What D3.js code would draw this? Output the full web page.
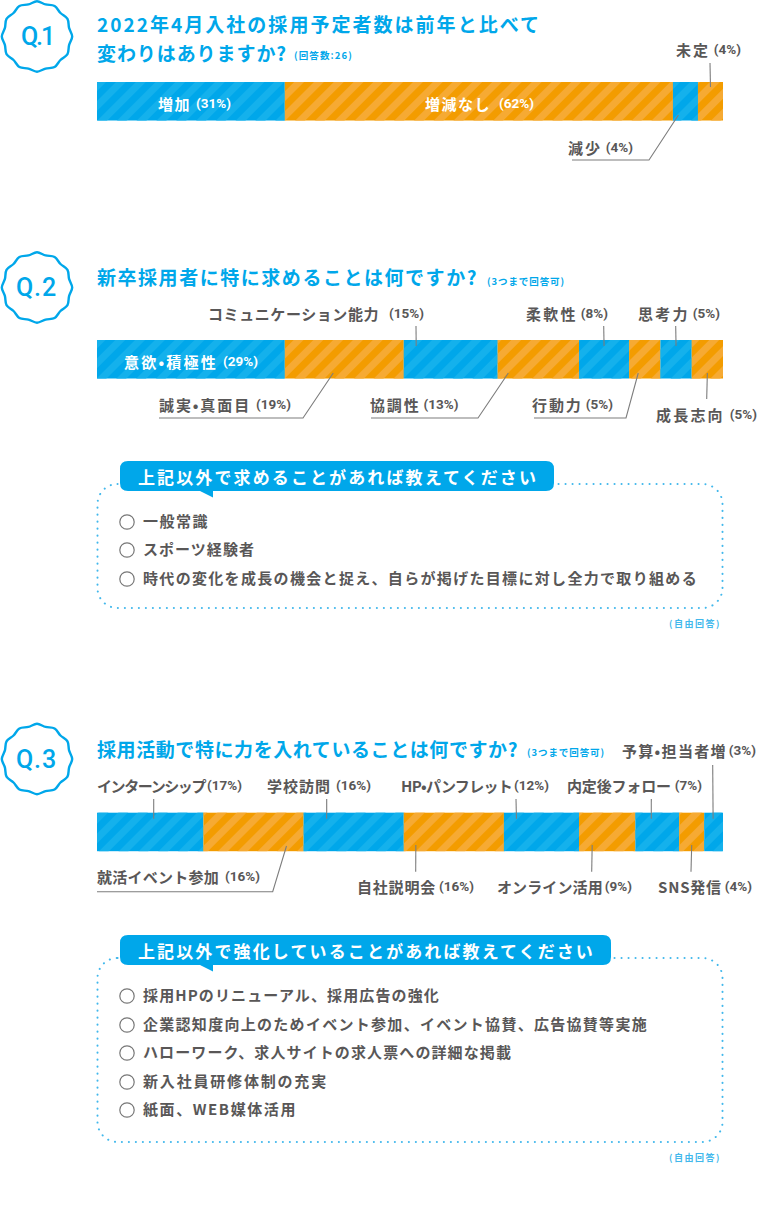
<!DOCTYPE html>
<html lang="ja">
<head>
<meta charset="utf-8">
<style>
	html, body { margin: 0; background: #fff; }
	svg { display: block; }
	text { font-family: "Noto Sans CJK JP", "Noto Sans", sans-serif; font-weight: 700; dominant-baseline: central; }
</style>
</head>
<body>
<svg width="780" height="1217"></svg>
<script src="https://cdn.jsdelivr.net/npm/d3@7"></script>
<script>
// Q1
const q1Names = ['増加', '増減なし', '減少', '未定'];
const q1Pct = [31, 62, 4, 4];
const q1Shares = [30, 62, 4, 4]; // bar widths as drawn in the picture

// Q2
const q2Names = ['意欲•積極性', '誠実•真面目', 'コミュニケーション能力', '協調性', '柔軟性', '行動力', '思考力', '成長志向'];
const q2Pct = [29, 19, 15, 13, 8, 5, 5, 5];
const q2Shares = [30, 19, 15, 13, 8, 5, 5, 5];
const q2Answers = ['一般常識', 'スポーツ経験者', '時代の変化を成長の機会と捉え、自らが掲げた目標に対し全力で取り組める'];

// Q3
const q3Names = ['インターンシップ', '就活イベント参加', '学校訪問', '自社説明会', 'HP•パンフレット', 'オンライン活用', '内定後フォロー', 'SNS発信', '予算•担当者増'];
const q3Pct = [17, 16, 16, 16, 12, 9, 7, 4, 3];
const q3Answers = ['採用HPのリニューアル、採用広告の強化', '企業認知度向上のためイベント参加、イベント協賛、広告協賛等実施', 'ハローワーク、求人サイトの求人票への詳細な掲載', '新入社員研修体制の充実', '紙面、WEB媒体活用'];

const blue = '#00a7ea';
const orange = '#f39c00';
const grey = '#595757';

const svg = d3.select('svg');
const x = d3.scaleLinear().domain([0, 100]).range([97, 723]);
const barHeight = 38.5;

// Stripes on the bars
const defs = svg.append('defs');
[['blue', '#14b1ec'], ['orange', '#f6aa33']].forEach(([id, stripe]) => {
	defs.append('pattern')
		.attr('id', `stripe-${id}`)
		.attr('patternUnits', 'userSpaceOnUse')
		.attr('width', 14)
		.attr('height', 14)
		.attr('patternTransform', 'rotate(45)')
		.append('rect')
		.attr('width', 7)
		.attr('height', 14)
		.attr('fill', stripe);
});

// Writes a text so it runs exactly from x0 to x1, by spreading the letters
function fitText(sel, x0, x1) {
	const node = sel.node();
	const chars = sel.text().length;
	const w = node.getComputedTextLength();
	sel.attr('x', x0).style('letter-spacing', `${(x1 - x0 - w) / chars}px`);
	return sel;
}

function line(txt, x0, x1, y, size, color) {
	const t = svg.append('text').attr('y', y - 1).attr('font-size', size).attr('fill', color).text(txt);
	return fitText(t, x0, x1);
}

// Name and percentage: the percentage keeps its own width, the name takes what is left
function label(name, pct, [x0, x1, y, gap = 4], color = grey) {
	const t = svg.append('text').attr('y', y - 1).attr('fill', color).attr('font-size', 15);
	const n = t.append('tspan').text(name);
	const p = t.append('tspan').attr('font-size', 13.5).style('font-family', 'Roboto').text(`(${pct}%)`);
	const nameW = n.node().getComputedTextLength();
	const pctW = p.node().getComputedTextLength();
	const spare = x1 - x0 - pctW - gap - nameW;
	n.style('letter-spacing', `${spare / name.length}px`);
	p.attr('dx', gap);
	t.attr('x', x0);
}

function badge(txt, cy, tx0, tx1) {
	const radial = d3.lineRadial()
		.angle((d, i) => (i / 24) * 2 * Math.PI)
		.radius((d) => d)
		.curve(d3.curveCardinalClosed);
	const radii = d3.range(24).map((i) => (i % 2 ? 33.2 : 35.2));
	svg.append('path')
		.attr('transform', `translate(37,${cy})`)
		.attr('d', radial(radii))
		.attr('fill', '#fff')
		.attr('stroke', blue)
		.attr('stroke-width', 2.4);
	svg.append('text')
		.attr('y', cy)
		.attr('font-size', 25)
		.attr('fill', blue)
		.style('font-family', 'Roboto')
		.style('font-weight', 500)
		.text(txt)
		.call(fitText, tx0, tx1);
}

function bars(shares, y) {
	const ends = Array.from(d3.cumsum(shares));
	const segs = shares.map((s, i) => ({ start: ends[i] - s, end: ends[i], id: i % 2 ? 'orange' : 'blue' }));
	const g = svg.append('g');
	g.selectAll('rect.base')
		.data(segs)
		.join('rect')
		.attr('class', 'base')
		.attr('x', (d) => x(d.start))
		.attr('y', y)
		.attr('width', (d) => x(d.end) - x(d.start))
		.attr('height', barHeight)
		.attr('fill', (d) => (d.id === 'blue' ? blue : orange));
	g.selectAll('rect.stripe')
		.data(segs)
		.join('rect')
		.attr('class', 'stripe')
		.attr('x', (d) => x(d.start))
		.attr('y', y)
		.attr('width', (d) => x(d.end) - x(d.start))
		.attr('height', barHeight)
		.attr('fill', (d) => `url(#stripe-${d.id})`);
	return segs;
}

// Leader: starts in a segment (offset from its middle), then follows fixed points
function leader(seg, dx, y0, rest) {
	const start = [(x(seg.start) + x(seg.end)) / 2 + dx, y0];
	svg.append('path')
		.attr('d', d3.line()([start, ...rest]))
		.attr('fill', 'none')
		.attr('stroke', '#7d7d7d')
		.attr('stroke-width', 1.1);
}

function answerBox(title, answers, top, bottom, bubbleRight, titleRight, ys) {
	svg.append('rect')
		.attr('x', 97.5)
		.attr('y', top)
		.attr('width', 625)
		.attr('height', bottom - top)
		.attr('rx', 20)
		.attr('fill', 'none')
		.attr('stroke', '#42b8ec')
		.attr('stroke-width', 2)
		.attr('stroke-linecap', 'round')
		.attr('stroke-dasharray', '0.1 6.9');

	const p = d3.path();
	const t = top - 23;
	const b = top + 7;
	p.moveTo(128, t);
	p.lineTo(bubbleRight - 8, t);
	p.quadraticCurveTo(bubbleRight, t, bubbleRight, t + 8);
	p.lineTo(bubbleRight, b - 8);
	p.quadraticCurveTo(bubbleRight, b, bubbleRight - 8, b);
	p.lineTo(213, b);
	p.lineTo(213, b + 6.5);
	p.lineTo(200, b);
	p.lineTo(128, b);
	p.quadraticCurveTo(120, b, 120, b - 8);
	p.lineTo(120, t + 8);
	p.quadraticCurveTo(120, t, 128, t);
	p.closePath();
	svg.append('path').attr('d', p.toString()).attr('fill', blue);

	line(title, 138, titleRight, t + 16, 17, '#fff');

	svg.selectAll(null)
		.data(answers)
		.join('circle')
		.attr('cx', 127)
		.attr('cy', (d, i) => ys[i].y)
		.attr('r', 7.2)
		.attr('fill', 'none')
		.attr('stroke', '#777')
		.attr('stroke-width', 1.2);
	answers.forEach((a, i) => line(a, 143, ys[i].right, ys[i].y - 0.5, 15, grey));

	line('(自由回答)', 669, 721, bottom + 16, 9, '#42b8ec');
}

/* ---------- Q1 ---------- */
badge('Q.1', 36.5, 21, 53);
line('2022年4月入社の採用予定者数は前年と比べて', 97, 541, 24, 19, blue);
line('変わりはありますか?', 97, 287, 53, 19, blue);
line('(回答数:26)', 294, 353, 56, 9.5, blue);

const q1Segs = bars(q1Shares, 82);
label(q1Names[0], q1Pct[0], [158, 231, 104, 5], '#fff');
label(q1Names[1], q1Pct[1], [425, 534, 104, 8], '#fff');
label(q1Names[2], q1Pct[2], [568, 633, 148]);
label(q1Names[3], q1Pct[3], [676, 741, 50]);
leader(q1Segs[2], -7, 115, [[649, 160], [572, 160]]);
leader(q1Segs[3], 0, 87, [[710, 63]]);

/* ---------- Q2 ---------- */
badge('Q.2', 287.5, 16, 57);
line('新卒採用者に特に求めることは何ですか?', 97, 478, 277, 19, blue);
line('(3つまで回答可)', 487, 565, 282, 9.5, blue);

const q2Segs = bars(q2Shares, 340);
const q2Boxes = [[124, 258, 362, 5], [159, 291, 405, 5], [208, 424, 314, 10], [370, 458.5, 405, 3], [526, 608, 314, 3], [532, 613, 405, 3], [638, 720, 314, 3], [656, 757, 415, 5]];
q2Names.forEach((n, i) => label(n, q2Pct[i], q2Boxes[i], i === 0 ? '#fff' : grey));
leader(q2Segs[1], -11, 373, [[303, 418], [159, 418]]);
leader(q2Segs[2], -34.5, 346, [[416, 326]]);
leader(q2Segs[3], -30, 373, [[478, 418], [371, 418]]);
leader(q2Segs[4], 0, 346, [[603.7, 326]]);
leader(q2Segs[5], -6.5, 373, [[626, 418], [534, 418]]);
leader(q2Segs[6], 0, 346, [[675.7, 326]]);
leader(q2Segs[7], 0, 373, [[706.7, 399]]);

answerBox('上記以外で求めることがあれば教えてください', q2Answers, 484, 608, 554, 538, [
	{ y: 522, right: 209 },
	{ y: 550, right: 255 },
	{ y: 579, right: 698 },
]);

/* ---------- Q3 ---------- */
badge('Q.3', 759, 16, 57);
line('採用活動で特に力を入れていることは何ですか?', 97, 518, 749, 19, blue);
line('(3つまで回答可)', 527, 605, 753, 9.5, blue);

const q3Segs = bars(q3Pct, 812.7);
const q3Boxes = [[97, 242, 786, 2], [97, 260, 877, 6], [267, 371, 786, 5], [357, 474, 887, 3], [401, 549, 786, 2], [497, 632, 887, 2], [567, 702, 786, 4], [658, 752, 887, 3], [622, 756, 751, 2]];
q3Names.forEach((n, i) => label(n, q3Pct[i], q3Boxes[i]));
leader(q3Segs[0], 3.5, 818.7, [[153.7, 799]]);
leader(q3Segs[1], 33, 846, [[272.7, 891.7], [97, 891.7]]);
leader(q3Segs[2], -27, 818.7, [[326.7, 799]]);
leader(q3Segs[3], -38, 845, [[415.7, 871.7]]);
leader(q3Segs[4], -25, 818.7, [[516, 799]]);
leader(q3Segs[5], -15, 845, [[591.7, 871.7]]);
leader(q3Segs[6], -6, 818.7, [[651.3, 799]]);
leader(q3Segs[7], 0, 845, [[691, 871.7]]);
leader(q3Segs[8], -0.5, 818.7, [[712.7, 765]]);

answerBox('上記以外で強化していることがあれば教えてください', q3Answers, 958, 1142, 611, 595, [
	{ y: 996, right: 440 },
	{ y: 1025, right: 648 },
	{ y: 1053, right: 512 },
	{ y: 1082, right: 328 },
	{ y: 1110, right: 297 },
]);
</script>
</body>
</html>
